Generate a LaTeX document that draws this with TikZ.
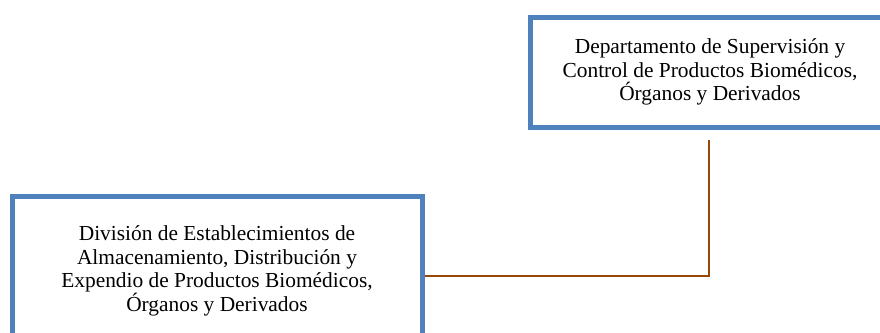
\documentclass[tikz,border=0pt]{standalone}
\usepackage{fontspec}
\setmainfont{Liberation Serif}
\usetikzlibrary{positioning}
\definecolor{boxblue}{RGB}{79,129,189}
\definecolor{linkbrown}{RGB}{151,72,6}

\begin{document}
\begin{tikzpicture}[x=1pt, y=1pt,
		unitbox/.style={draw=boxblue, line width=5pt, fill=white, align=center,
			inner sep=0pt, font=\fontsize{21.4}{23.5}\selectfont},
		link/.style={draw=linkbrown, line width=2pt}]
	% Page frame
	\clip (0,0) rectangle (880,-332);
	\useasboundingbox (0,0) rectangle (880,-332);
	
	% Department (top right)
	\node[unitbox, minimum width=360pt, minimum height=110pt] (dept) at (710,-72)
		{Departamento de Supervisión y\\Control de Productos Biomédicos,\\Órganos y Derivados};
	
	% Division (bottom left)
	\node[unitbox, minimum width=410pt, minimum height=150pt] (div) at (217,-271)
		{División de Establecimientos de\\Almacenamiento, Distribución y\\Expendio de Productos Biomédicos,\\Órganos y Derivados};
	
	% Connector
	\coordinate (bend) at (709,-276);
	\draw[link] ([yshift=-10pt]dept.south -| bend) -- (bend) -- (div.east |- bend);
\end{tikzpicture}
\end{document}
